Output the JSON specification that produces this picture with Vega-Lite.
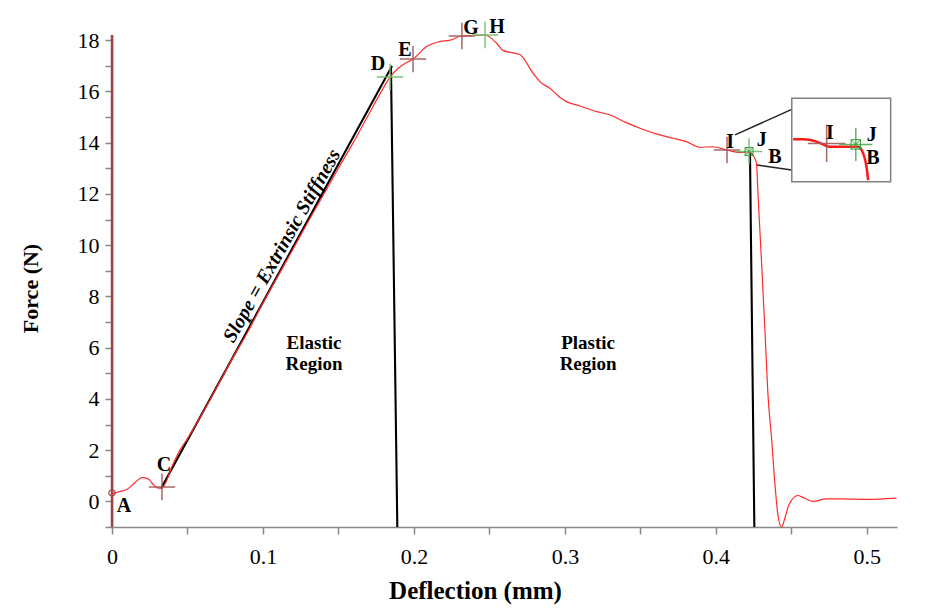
{
  "$schema": "https://vega.github.io/schema/vega-lite/v6.json",
  "width": 785,
  "height": 492,
  "autosize": {"type": "none"},
  "padding": {"left": 112, "top": 35, "right": 30, "bottom": 86},
  "background": "white",
  "config": {
    "view": {"stroke": null},
    "font": "'Liberation Serif', 'Times New Roman', 'DejaVu Serif', serif",
    "axis": {
      "grid": false,
      "domainColor": "#888888",
      "domainWidth": 1.5,
      "tickColor": "#888888",
      "tickWidth": 1.5,
      "tickSize": 7,
      "labelFont": "'Liberation Serif', 'Times New Roman', 'DejaVu Serif', serif",
      "labelFontSize": 22,
      "labelColor": "black",
      "labelOverlap": false,
      "labelFlush": false,
      "titleFont": "'Liberation Serif', 'Times New Roman', 'DejaVu Serif', serif",
      "titleFontWeight": "bold",
      "titleColor": "black"
    }
  },
  "datasets": {
    "curve": [
      {"x": 0.0, "y": 0.30}, {"x": 0.005, "y": 0.38}, {"x": 0.010, "y": 0.47}, {"x": 0.015, "y": 0.72},
      {"x": 0.020, "y": 0.93}, {"x": 0.024, "y": 0.88}, {"x": 0.027, "y": 0.68}, {"x": 0.030, "y": 0.53},
      {"x": 0.0331, "y": 0.52}, {"x": 0.040, "y": 1.40}, {"x": 0.045, "y": 2.00}, {"x": 0.050, "y": 2.45},
      {"x": 0.060, "y": 3.45}, {"x": 0.070, "y": 4.52}, {"x": 0.080, "y": 5.60}, {"x": 0.090, "y": 6.62},
      {"x": 0.100, "y": 7.75}, {"x": 0.110, "y": 8.80}, {"x": 0.120, "y": 9.86}, {"x": 0.130, "y": 10.92},
      {"x": 0.140, "y": 11.96}, {"x": 0.150, "y": 13.00}, {"x": 0.160, "y": 14.02}, {"x": 0.170, "y": 15.10},
      {"x": 0.178, "y": 15.95}, {"x": 0.1842, "y": 16.56}, {"x": 0.190, "y": 16.92}, {"x": 0.195, "y": 17.12},
      {"x": 0.1994, "y": 17.26}, {"x": 0.2084, "y": 17.75}, {"x": 0.217, "y": 17.94}, {"x": 0.224, "y": 18.0},
      {"x": 0.2318, "y": 18.16}, {"x": 0.240, "y": 18.18}, {"x": 0.2471, "y": 18.2}, {"x": 0.2548, "y": 17.88},
      {"x": 0.259, "y": 17.6}, {"x": 0.2657, "y": 17.5}, {"x": 0.270, "y": 17.45}, {"x": 0.2725, "y": 17.3},
      {"x": 0.279, "y": 16.7}, {"x": 0.284, "y": 16.35}, {"x": 0.290, "y": 16.12}, {"x": 0.296, "y": 15.8},
      {"x": 0.301, "y": 15.6}, {"x": 0.310, "y": 15.43}, {"x": 0.321, "y": 15.21}, {"x": 0.330, "y": 15.08},
      {"x": 0.340, "y": 14.8}, {"x": 0.3497, "y": 14.56}, {"x": 0.360, "y": 14.35}, {"x": 0.3717, "y": 14.17},
      {"x": 0.3806, "y": 14.04}, {"x": 0.3894, "y": 13.82}, {"x": 0.398, "y": 13.84}, {"x": 0.4074, "y": 13.71},
      {"x": 0.416, "y": 13.62}, {"x": 0.422, "y": 13.64}, {"x": 0.4247, "y": 13.5}, {"x": 0.4269, "y": 13.2},
      {"x": 0.428, "y": 11.9}, {"x": 0.4303, "y": 9.3}, {"x": 0.4325, "y": 6.7}, {"x": 0.4346, "y": 4.1},
      {"x": 0.437, "y": 2.4}, {"x": 0.4391, "y": 0.7}, {"x": 0.4413, "y": -0.6}, {"x": 0.4435, "y": -1.0},
      {"x": 0.446, "y": -0.6}, {"x": 0.448, "y": -0.2}, {"x": 0.4501, "y": 0.04}, {"x": 0.4545, "y": 0.23},
      {"x": 0.4589, "y": 0.12}, {"x": 0.4644, "y": 0.0}, {"x": 0.4733, "y": 0.1}, {"x": 0.4843, "y": 0.1},
      {"x": 0.4998, "y": 0.08}, {"x": 0.5197, "y": 0.13}
    ],
    "axisLine": [
      {"x": 0, "y": -1}, {"x": 0, "y": 18.2}
    ],
    "blackLines": [
      {"series": "slope", "x": 0.0325, "y": 0.5}, {"series": "slope", "x": 0.1855, "y": 16.99},
      {"series": "vD", "x": 0.1848, "y": 16.91}, {"series": "vD", "x": 0.189, "y": -1},
      {"series": "vJ", "x": 0.4226, "y": 13.63}, {"series": "vJ", "x": 0.4255, "y": -1}
    ],
    "connectors": [
      {"series": "conn1", "x": 0.4127, "y": 14.30}, {"series": "conn1", "x": 0.4503, "y": 15.30},
      {"series": "conn2", "x": 0.4271, "y": 13.13}, {"series": "conn2", "x": 0.4503, "y": 12.93}
    ],
    "inset": [
      {"x": 0.4503, "x2": 0.5158, "y": 15.73, "y2": 12.47}
    ],
    "insetCurve": [
      {"x": 0.4512, "y": 14.13}, {"x": 0.4578, "y": 14.13}, {"x": 0.4667, "y": 14.04}, {"x": 0.4755, "y": 13.84},
      {"x": 0.4887, "y": 13.84}, {"x": 0.4942, "y": 13.84}, {"x": 0.4976, "y": 13.58}, {"x": 0.4998, "y": 13.06},
      {"x": 0.5009, "y": 12.54}
    ],
    "brownMain": [
      {"point": "C", "x": 0.0331, "y": 0.56},
      {"point": "E", "x": 0.1994, "y": 17.26},
      {"point": "G", "x": 0.2318, "y": 18.16},
      {"point": "I", "x": 0.4074, "y": 13.71}
    ],
    "greenMain": [
      {"point": "D", "x": 0.1842, "y": 16.56},
      {"point": "H", "x": 0.2471, "y": 18.2},
      {"point": "J", "x": 0.4220, "y": 13.65}
    ],
    "brownInset": [
      {"point": "I", "x": 0.4734, "y": 13.97}
    ],
    "greenInset": [
      {"point": "J", "x": 0.4927, "y": 13.93}
    ],
    "boxMain": [
      {"point": "J", "x": 0.4220, "y": 13.65}
    ],
    "boxInset": [
      {"point": "J", "x": 0.4927, "y": 13.93}
    ],
    "start": [
      {"point": "A", "x": 0.0, "y": 0.33}
    ],
    "letters": [
      {"t": "A", "x": 0.0079, "y": -0.18},
      {"t": "C", "x": 0.0344, "y": 1.42},
      {"t": "D", "x": 0.1762, "y": 17.07},
      {"t": "E", "x": 0.1941, "y": 17.61},
      {"t": "G", "x": 0.2378, "y": 18.47},
      {"t": "H", "x": 0.2550, "y": 18.51},
      {"t": "I", "x": 0.4094, "y": 14.04},
      {"t": "J", "x": 0.4304, "y": 14.10},
      {"t": "B", "x": 0.4392, "y": 13.45},
      {"t": "I", "x": 0.4756, "y": 14.39},
      {"t": "J", "x": 0.5032, "y": 14.30},
      {"t": "B", "x": 0.5041, "y": 13.39}
    ],
    "regions": [
      {"lines": ["Elastic", "Region"], "x": 0.1338, "y": 6.2},
      {"lines": ["Plastic", "Region"], "x": 0.3154, "y": 6.2}
    ],
    "slopeText": [
      {"t": "Slope = Extrinsic Stiffness", "x": 0.1126, "y": 9.97}
    ]
  },
  "encoding": {
    "x": {
      "field": "x", "type": "quantitative",
      "scale": {"domain": [0, 0.52], "nice": false, "zero": false},
      "axis": {
        "values": [0, 0.05, 0.1, 0.15, 0.2, 0.25, 0.3, 0.35, 0.4, 0.45, 0.5],
        "format": "~g",
        "labelExpr": "round(datum.value*100) % 10 == 0 ? datum.label : ''",
        "labelPadding": 12,
        "title": "Deflection (mm)",
        "titleFontSize": 25,
        "titleX": 363, "titleY": 63, "titleBaseline": "middle", "titleAlign": "center"
      }
    },
    "y": {
      "field": "y", "type": "quantitative",
      "scale": {"domain": [-1, 18.2], "nice": false, "zero": false},
      "axis": {
        "values": [-1, 0, 1, 2, 3, 4, 5, 6, 7, 8, 9, 10, 11, 12, 13, 14, 15, 16, 17, 18],
        "labelExpr": "datum.value % 2 == 0 ? datum.label : ''",
        "labelPadding": 6,
        "title": "Force (N)",
        "titleFontSize": 22,
        "titleX": -82, "titleY": 253, "titleBaseline": "middle", "titleAlign": "center", "titleAngle": 270
      }
    }
  },
  "layer": [
    {
      "data": {"name": "axisLine"},
      "mark": {"type": "line", "color": "#a04545", "strokeWidth": 2.5}
    },
    {
      "data": {"name": "blackLines"},
      "mark": {"type": "line", "color": "#000000", "strokeWidth": 2.1},
      "encoding": {"detail": {"field": "series", "type": "nominal"}}
    },
    {
      "data": {"name": "connectors"},
      "mark": {"type": "line", "color": "#222222", "strokeWidth": 1.5},
      "encoding": {"detail": {"field": "series", "type": "nominal"}}
    },
    {
      "data": {"name": "curve"},
      "mark": {"type": "line", "interpolate": "monotone", "color": "#ff2a2a", "strokeWidth": 1.2}
    },
    {
      "data": {"name": "inset"},
      "mark": {"type": "rect", "fill": "white", "stroke": "#808080", "strokeWidth": 1.5},
      "encoding": {
        "x2": {"field": "x2"},
        "y2": {"field": "y2"}
      }
    },
    {
      "data": {"name": "insetCurve"},
      "mark": {"type": "line", "interpolate": "monotone", "color": "#ff1a1a", "strokeWidth": 2.5}
    },
    {
      "data": {"name": "brownMain"},
      "mark": {"type": "point", "shape": "M-1,0L1,0M0,-1L0,1", "filled": false, "strokeWidth": 1.5, "color": "#a05858", "size": 700, "opacity": 0.9}
    },
    {
      "data": {"name": "greenMain"},
      "mark": {"type": "point", "shape": "M-1,0L1,0M0,-1L0,1", "filled": false, "strokeWidth": 1.5, "color": "#6fbf6f", "size": 700, "opacity": 0.9}
    },
    {
      "data": {"name": "brownInset"},
      "mark": {"type": "point", "shape": "M-1,0L1,0M0,-1L0,1", "filled": false, "strokeWidth": 1.5, "color": "#a05858", "size": 1400, "opacity": 0.9}
    },
    {
      "data": {"name": "greenInset"},
      "mark": {"type": "point", "shape": "M-1,0L1,0M0,-1L0,1", "filled": false, "strokeWidth": 1.5, "color": "#4fae4f", "size": 1100, "opacity": 0.9}
    },
    {
      "data": {"name": "boxMain"},
      "mark": {"type": "point", "shape": "M-1,-1L1,-1L1,1L-1,1ZM-1,-1L1,1M-1,1L1,-1", "filled": false, "color": "#3a9a3a", "strokeWidth": 1, "size": 64, "opacity": 1}
    },
    {
      "data": {"name": "boxInset"},
      "mark": {"type": "point", "shape": "M-1,-1L1,-1L1,1L-1,1ZM-1,-1L1,1M-1,1L1,-1", "filled": false, "color": "#3a9a3a", "strokeWidth": 1, "size": 90, "opacity": 1}
    },
    {
      "data": {"name": "start"},
      "mark": {"type": "point", "shape": "circle", "filled": false, "color": "#a04545", "size": 40, "strokeWidth": 1.2, "opacity": 1}
    },
    {
      "data": {"name": "letters"},
      "mark": {"type": "text", "font": "'Liberation Serif', 'Times New Roman', 'DejaVu Serif', serif", "fontWeight": "bold", "fontSize": 20, "align": "center", "baseline": "middle", "color": "black"},
      "encoding": {"text": {"field": "t", "type": "nominal"}}
    },
    {
      "data": {"name": "regions"},
      "mark": {"type": "text", "font": "'Liberation Serif', 'Times New Roman', 'DejaVu Serif', serif", "fontWeight": "bold", "fontSize": 19, "lineHeight": 21, "align": "center", "baseline": "middle", "color": "black"},
      "encoding": {"text": {"field": "lines", "type": "nominal"}}
    },
    {
      "data": {"name": "slopeText"},
      "mark": {"type": "text", "font": "'Liberation Serif', 'Times New Roman', 'DejaVu Serif', serif", "fontWeight": "bold", "fontStyle": "italic", "fontSize": 20, "angle": -60.5, "align": "center", "baseline": "middle", "color": "black"},
      "encoding": {"text": {"field": "t", "type": "nominal"}}
    }
  ]
}
